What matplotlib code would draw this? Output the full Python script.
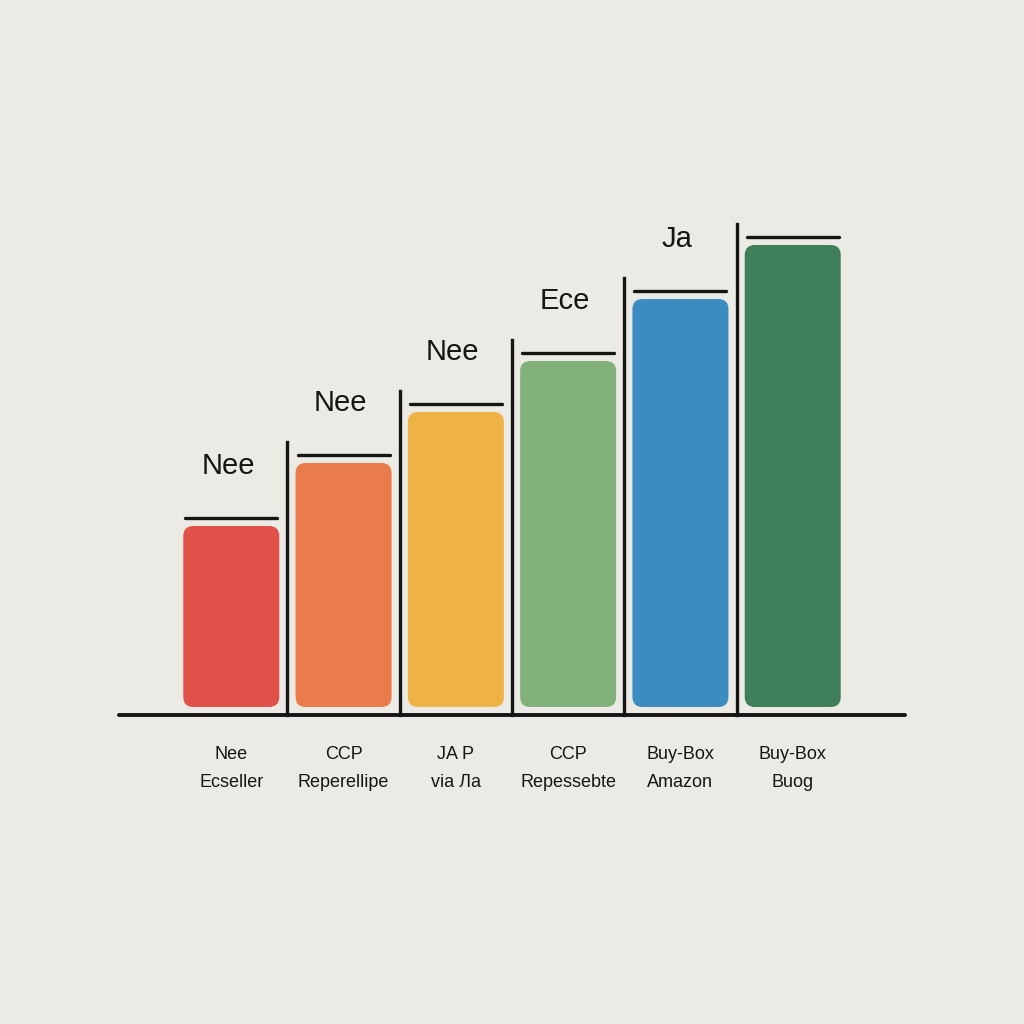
import matplotlib
matplotlib.use("Agg")
from matplotlib import pyplot as plt
from matplotlib.patches import FancyBboxPatch

# chart data
categories = ["Nee\nEcseller", "CCP\nReperellipe", "JA P\nvia Ла",
              "CCP\nRepessebte", "Buy-Box\nAmazon", "Buy-Box\nBuog"]
values = [181, 244, 295, 346, 408, 462]
top_labels = ["Nee", "Nee", "Nee", "Ece", "Ja", ""]
colors = ["#e2504a", "#ea7c4b", "#efb244", "#82b07a", "#3b8cc1", "#3f7f5a"]

bg = "#eceae5"
ink = "#151515"
fonts = ["Liberation Sans Narrow", "Liberation Sans", "DejaVu Sans"]

fig = plt.figure(figsize=(10.24, 10.24), dpi=100, facecolor=bg)
ax = fig.add_axes([119 / 1024, 309 / 1024, 786 / 1024, 508 / 1024])
ax.set_facecolor(bg)
ax.set_xlim(-1, 6)
ax.set_ylim(-8, 500)

# pixels per data unit, used to keep the rounded corners round
aspect = (786 / 7) / 1.0
width = 0.855

for i, (v, c) in enumerate(zip(values, colors)):
    bar = FancyBboxPatch((i - width / 2, 0), width, v,
                         boxstyle="round,pad=0,rounding_size=0.09",
                         mutation_aspect=aspect, fc=c, ec="none")
    ax.add_patch(bar)
    # cap line above each bar
    ax.plot([i - 0.41, i + 0.41], [v + 8, v + 8], color=ink, lw=2.4,
            solid_capstyle="round")
    # divider on the left of each bar (except the first)
    if i > 0:
        ax.plot([i - 0.5, i - 0.5], [-8, v + 21], color=ink, lw=2.4,
                clip_on=False)
    if top_labels[i]:
        ax.text(i - 0.03, v + 60, top_labels[i], ha="center", va="center",
                fontsize=21, color=ink, family=fonts)

# baseline
ax.axhline(-8, color=ink, lw=2.8, solid_capstyle="round", clip_on=False)

ax.set_xticks(range(len(categories)))
ax.set_xticklabels(categories, fontsize=13, color=ink, family=fonts,
                   linespacing=1.9)
ax.tick_params(axis="x", length=0, pad=22)
ax.set_yticks([])
for s in ax.spines.values():
    s.set_visible(False)

fig.savefig("out.png", dpi=100, facecolor=bg)
